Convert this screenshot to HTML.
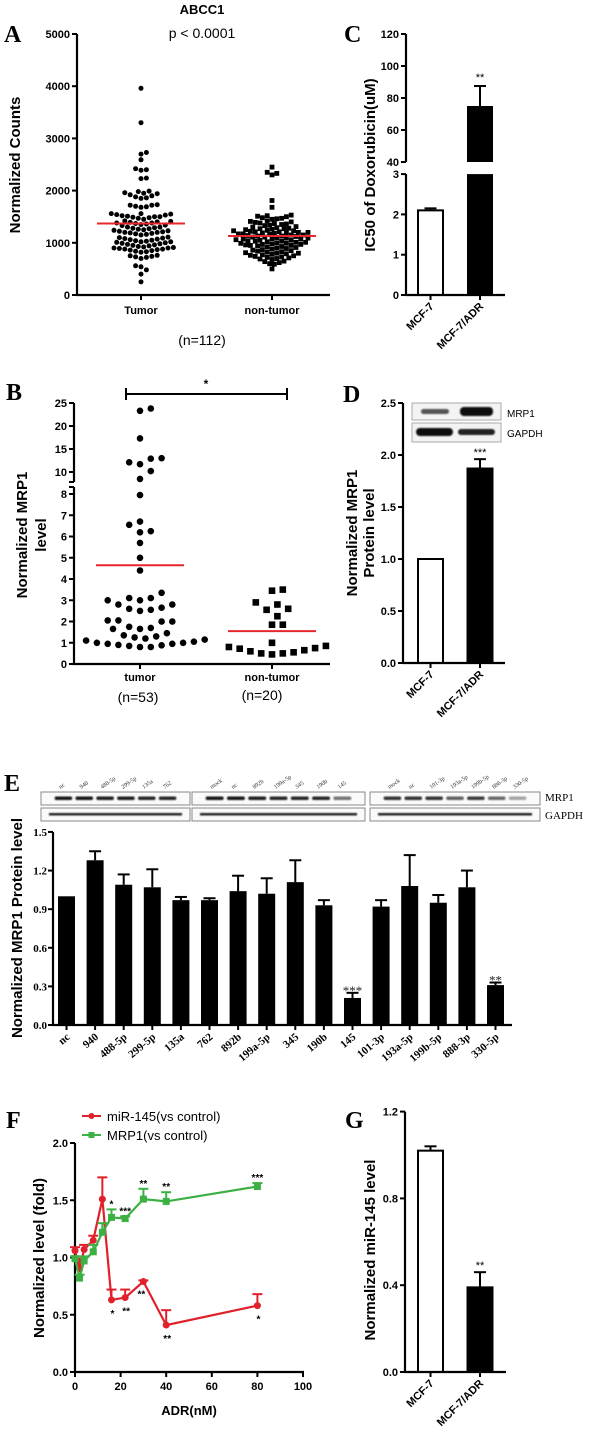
<!DOCTYPE html>
<html><head><meta charset="utf-8">
<style>
html,body{margin:0;padding:0;background:#fff;}
svg{display:block;font-family:"Liberation Sans",Arial,sans-serif;}
.b{font-weight:bold;}
.ser{font-family:"Liberation Serif",serif;}
</style></head>
<body>
<svg id="fig" width="600" height="1448" viewBox="0 0 600 1448" xmlns="http://www.w3.org/2000/svg">
<defs><filter id="bl" x="-20%" y="-100%" width="140%" height="300%"><feGaussianBlur stdDeviation="0.9"/></filter></defs>
<text x="4" y="42" class="ser b" font-size="24">A</text>
<text x="6" y="400" class="ser b" font-size="24">B</text>
<text x="344" y="42" class="ser b" font-size="24">C</text>
<text x="343" y="402" class="ser b" font-size="24">D</text>
<text x="4" y="791" class="ser b" font-size="24">E</text>
<text x="6" y="1128" class="ser b" font-size="24">F</text>
<text x="345" y="1128" class="ser b" font-size="24">G</text>
<text x="202" y="14" text-anchor="middle" class="b" font-size="13">ABCC1</text>
<text x="202" y="38" text-anchor="middle" font-size="14">p &lt; 0.0001</text>
<text transform="translate(20,165) rotate(-90)" text-anchor="middle" class="b" font-size="15">Normalized Counts</text>
<text x="202" y="345" text-anchor="middle" font-size="14">(n=112)</text>
<text transform="translate(27,535) rotate(-90)" text-anchor="middle" class="b" font-size="15">Normalized  MRP1</text>
<text transform="translate(46,535) rotate(-90)" text-anchor="middle" class="b" font-size="15">level</text>
<text x="138" y="702" text-anchor="middle" font-size="14">(n=53)</text>
<text x="262" y="700" text-anchor="middle" font-size="14">(n=20)</text>
<text x="206" y="388" text-anchor="middle" class="b" font-size="12">*</text>
<text transform="translate(375,165) rotate(-90)" text-anchor="middle" class="b" font-size="15">IC50 of Doxorubicin(uM)</text>
<text transform="translate(357,533) rotate(-90)" text-anchor="middle" class="b" font-size="15">Normalized  MRP1</text>
<text transform="translate(374,533) rotate(-90)" text-anchor="middle" class="b" font-size="15">Protein level</text>
<text transform="translate(375,1250) rotate(-90)" text-anchor="middle" class="b" font-size="15">Normalized  miR-145 level</text>
<text transform="translate(22,928) rotate(-90)" text-anchor="middle" class="b" font-size="15">Normalized  MRP1 Protein level</text>
<text transform="translate(44,1258) rotate(-90)" text-anchor="middle" class="b" font-size="15">Normalized  level (fold)</text>
<text x="189" y="1415" text-anchor="middle" class="b" font-size="13">ADR(nM)</text>
<g>
<line x1="82" y1="1116" x2="101" y2="1116" stroke="#e0212b" stroke-width="2"/>
<circle cx="91.5" cy="1116" r="3" fill="#e0212b"/>
<text x="107" y="1121" font-size="13">miR-145(vs control)</text>
<line x1="82" y1="1135" x2="101" y2="1135" stroke="#3cb043" stroke-width="2"/>
<rect x="88.5" y="1132" width="6" height="6" fill="#3cb043"/>
<text x="107" y="1140" font-size="13">MRP1(vs control)</text>
</g>
<text x="545" y="801" class="ser" font-size="11">MRP1</text>
<text x="545" y="819" class="ser" font-size="11">GAPDH</text>
<text x="507" y="417" font-size="10">MRP1</text>
<text x="507" y="437" font-size="10">GAPDH</text>
<g id="dyn"></g>
</svg>
<script>
var aTumor=[3960,3300,2730,2700,2590,2420,2400,2390,2240,2230,
1990,1980,1960,1950,1940,1920,1900,1880,1860,1850,
1730,1720,1720,1700,1690,1680,
1560,1560,1550,1540,1530,1520,1510,1500,1500,1490,1480,1470,1450,
1420,1410,1400,1390,1380,1380,1370,1360,1350,1340,1330,
1300,1300,1290,1280,1270,1260,1250,1240,1230,1220,1210,1200,1200,1190,1180,1170,1160,1150,
1110,1100,1090,1080,1070,1060,1050,1040,1030,1020,1020,1010,1000,990,980,970,960,950,940,930,
920,910,900,900,890,880,880,870,860,850,840,830,820,
760,750,740,730,720,700,
560,540,480,400,250];
var aNonTumor=[2450,2350,2330,2300,1810,1680,
1530,1520,1510,1500,1480,1470,1460,1450,
1420,1410,1400,1390,1380,1370,1360,1350,1340,1330,
1310,1300,1290,1280,1270,1270,1260,1250,1240,1230,1230,1220,1210,1210,1200,1200,1190,1190,1180,
1170,1170,1160,1150,1150,1140,1130,1130,1120,1110,1110,1100,1090,1090,1080,1070,1070,1060,1050,1050,1040,
1030,1030,1020,1010,1010,1000,990,990,980,970,970,960,950,950,940,930,920,910,900,
890,880,870,860,850,840,830,820,810,800,800,790,780,770,
760,750,740,730,720,710,700,690,680,
650,640,620,600,590,500];
var aMeans=[1370,1130];
var aTicks=[0,1000,2000,3000,4000,5000];
var aCats=["Tumor","non-tumor"];

var bTumor=[23.8,23.3,17.3,13.0,12.9,12.1,11.7,10.2,8.5,7.95,6.7,6.55,6.25,6.2,5.7,5.0,4.4,
3.35,3.1,3.1,3.0,3.0,2.8,2.8,2.65,2.6,2.55,2.5,2.05,2.05,2.0,2.0,1.75,1.7,1.65,1.65,
1.45,1.35,1.3,1.25,1.2,1.15,1.1,1.05,1.0,1.0,0.95,0.95,0.9,0.88,0.85,0.8,0.8];
var bNonTumor=[3.5,3.45,2.9,2.8,2.6,2.55,2.25,1.85,1.85,1.0,0.85,0.8,0.75,0.72,0.65,0.6,0.55,0.5,0.5,0.45];
var bMeans=[4.65,1.55];
var bTicksLow=[0,1,2,3,4,5,6,7,8];
var bTicksHigh=[10,15,20,25];
var bCats=["tumor","non-tumor"];

var cellCats=["MCF-7","MCF-7/ADR"];
var cValues=[2.1,75];
var cErr=[2.15,87.5];
var cTicksLow=[0,1,2,3];
var cTicksHigh=[40,60,80,100,120];
var dValues=[1.0,1.87];
var dErr=[1.0,1.96];
var dTicks=[0,0.5,1.0,1.5,2.0,2.5];
var gValues=[1.02,0.39];
var gErr=[1.04,0.46];
var gTicks=[0,0.4,0.8,1.2];

var eCats=["nc","940","488-5p","299-5p","135a","762","892b","199a-5p","345","190b","145","101-3p","193a-5p","199b-5p","888-3p","330-5p"];
var eValues=[1.0,1.28,1.09,1.07,0.97,0.97,1.04,1.02,1.11,0.93,0.21,0.92,1.08,0.95,1.07,0.31];
var eErr=[1.0,1.35,1.17,1.21,0.995,0.985,1.16,1.14,1.28,0.97,0.25,0.97,1.32,1.01,1.20,0.33];
var eStars=["","","","","","","","","","","***","","","","","**"];
var eTicks=[0,0.3,0.6,0.9,1.2,1.5];
var eBlotLanes1=["nc","940","488-5p","299-5p","135a","762"];
var eBlotLanes2=["mock","nc","892b","199a-5p","345","190b","145"];
var eBlotLanes3=["mock","nc","101-3p","193a-5p","199b-5p","888-3p","330-5p"];
var eBand1=[1,1,0.95,0.95,0.9,0.9];
var eBand2=[1,1,0.95,0.9,0.9,0.9,0.5];
var eBand3=[0.85,0.85,0.85,0.6,0.8,0.55,0.25];

var fX=[0,2,4,8,12,16,22,30,40,80];
var fMir=[1.06,0.9,1.07,1.15,1.51,0.63,0.65,0.79,0.41,0.58];
var fMirErr=[1.09,0.99,1.11,1.19,1.70,0.72,0.72,0.80,0.54,0.68];
var fMirStars=["","","","","","*","**","**","**","*"];
var fMrp=[0.99,0.82,0.97,1.05,1.22,1.35,1.34,1.51,1.49,1.62];
var fMrpErr=[1.01,0.85,1.01,1.11,1.30,1.42,1.36,1.60,1.57,1.65];
var fMrpStars=["","","","","","*","***","**","**","***"];
var fTicksY=[0,0.5,1.0,1.5,2.0];
var fTicksX=[0,20,40,60,80,100];

var NS="http://www.w3.org/2000/svg";
var root=document.getElementById('dyn');
function mk(tag,attrs,name,inter,parent){
  var el=document.createElementNS(NS,tag);
  for(var k in attrs){el.setAttribute(k,attrs[k]);}
  
  
  (parent||root).appendChild(el);
  return el;
}
function txt(x,y,s,opts,name){
  var a={x:x,y:y,'font-size':opts.size||11};
  if(opts.anchor)a['text-anchor']=opts.anchor;
  if(opts.bold)a['font-weight']='bold';
  if(opts.serif)a['font-family']='"Liberation Serif",serif';
  if(opts.tr)a.transform=opts.tr;
  if(opts.fill)a.fill=opts.fill;
  var t=mk('text',a,name,false);
  t.textContent=s;return t;
}
function line(x1,y1,x2,y2,w,col,name){
  return mk('line',{x1:x1,y1:y1,x2:x2,y2:y2,stroke:col||'#000','stroke-width':w||2},name,false);
}
function swarm(vals,cx,yfn,d,step){
  var placed=[],out=[];
  var sorted=vals.slice().sort(function(a,b){return a-b;});
  sorted.forEach(function(v){
    var y=yfn(v),k=0,x;
    while(true){
      var off=(k===0)?0:((k%2)?1:-1)*Math.ceil(k/2)*d*step;
      x=cx+off;var ok=true;
      for(var i=0;i<placed.length;i++){var p=placed[i];var dx=p[0]-x,dy=p[1]-y;if(dx*dx+dy*dy<d*d*0.98){ok=false;break;}}
      if(ok)break;k++;if(k>80)break;
    }
    placed.push([x,y]);out.push([x,y,v]);
  });
  return out;
}

(function(){
  var x0=77,xEnd=330,y0=295,top=34;
  function yA(v){return y0-v*(y0-top)/5000;}
  var xs=[141,272];
  line(x0,top,x0,y0+1,2.2,'#000','chart-a-y-axis');
  line(x0-1,y0,xEnd,y0,2.2,'#000','chart-a-x-axis');
  aTicks.forEach(function(t){
    line(x0-5,yA(t),x0,yA(t),2,'#000','chart-a-y-tick');
    txt(x0-7,yA(t)+4,String(t),{anchor:'end',bold:true,size:11},'chart-a-y-tick-label');
  });
  aCats.forEach(function(c,i){
    line(xs[i],y0,xs[i],y0+5,2,'#000','chart-a-x-tick');
    txt(xs[i],y0+19,c,{anchor:'middle',bold:true,size:11},'chart-a-x-tick-label');
  });
  swarm(aTumor,xs[0],yA,5.4,0.5).forEach(function(p){
    mk('circle',{cx:p[0].toFixed(1),cy:p[1].toFixed(1),r:2.5,fill:'#000'},'chart-a-tumor-point',false);
  });
  swarm(aNonTumor,xs[1],yA,4.8,0.5).forEach(function(p){
    mk('rect',{x:(p[0]-2.4).toFixed(1),y:(p[1]-2.4).toFixed(1),width:4.8,height:4.8,fill:'#000'},'chart-a-nontumor-point',false);
  });
  aMeans.forEach(function(m,i){
    line(xs[i]-44,yA(m),xs[i]+44,yA(m),2,'#e8262e','chart-a-mean-line');
  });
})();

(function(){
  var x0=74,xEnd=330,y0=664;
  function yB(v){return v<=8? y0-v*21.25 : 472-(v-10)*4.6;}
  var xs=[140,272];
  line(x0,403,x0,482,2.2,'#000','chart-b-y-axis-upper');
  line(x0,487,x0,y0+1,2.2,'#000','chart-b-y-axis-lower');
  line(x0-5,482,x0,482,2,'#000','chart-b-axis-break');
  line(x0-5,487,x0,487,2,'#000','chart-b-axis-break');
  line(x0-1,y0,xEnd,y0,2.2,'#000','chart-b-x-axis');
  bTicksLow.concat(bTicksHigh).forEach(function(t){
    line(x0-5,yB(t),x0,yB(t),2,'#000','chart-b-y-tick');
    txt(x0-7,yB(t)+4,String(t),{anchor:'end',bold:true,size:11},'chart-b-y-tick-label');
  });
  bCats.forEach(function(c,i){
    line(xs[i],y0,xs[i],y0+5,2,'#000','chart-b-x-tick');
    txt(xs[i],y0+17,c,{anchor:'middle',bold:true,size:11},'chart-b-x-tick-label');
  });
  line(126,394,287,394,2,'#000','chart-b-bracket');
  line(126,388,126,400,2,'#000','chart-b-bracket-end');
  line(287,388,287,400,2,'#000','chart-b-bracket-end');
  swarm(bTumor,xs[0],yB,9.8,0.55).forEach(function(p){
    mk('circle',{cx:p[0].toFixed(1),cy:p[1].toFixed(1),r:3.3,fill:'#000'},'chart-b-tumor-point',false);
  });
  swarm(bNonTumor,xs[1],yB,9.8,0.55).forEach(function(p){
    mk('rect',{x:(p[0]-3.3).toFixed(1),y:(p[1]-3.3).toFixed(1),width:6.6,height:6.6,fill:'#000'},'chart-b-nontumor-point',false);
  });
  bMeans.forEach(function(m,i){
    line(xs[i]-44,yB(m),xs[i]+44,yB(m),2,'#e8262e','chart-b-mean-line');
  });
})();

function barPair(prefix,x0,y0,xEnd,yfn,vals,errs,ticks,fmt,stars){
  var xs=[430.5,480];
  vals.forEach(function(v,i){
    var top=yfn(v);
    mk('rect',{x:xs[i]-12.5,y:top,width:25,height:y0-top,fill:i?'#000':'#fff',stroke:'#000','stroke-width':2},prefix+'-bar-'+(i?'adr':'mcf7'),false);
    line(xs[i],top,xs[i],yfn(errs[i]),2,'#000',prefix+'-error-bar');
    line(xs[i]-6,yfn(errs[i]),xs[i]+6,yfn(errs[i]),2,'#000',prefix+'-error-cap');
    if(stars[i])txt(xs[i],yfn(errs[i])-3,stars[i],{anchor:'middle',size:11},prefix+'-significance');
  });
  line(x0-1,y0,xEnd,y0,2.2,'#000',prefix+'-x-axis');
  cellCats.forEach(function(c,i){
    line(xs[i],y0,xs[i],y0+5,2,'#000',prefix+'-x-tick');
    txt(xs[i]+4,y0+12,c,{anchor:'end',bold:true,size:11,tr:'rotate(-45 '+(xs[i]+4)+' '+(y0+12)+')'},prefix+'-x-tick-label');
  });
  ticks.forEach(function(t){
    line(x0-5,yfn(t),x0,yfn(t),2,'#000',prefix+'-y-tick');
    txt(x0-7,yfn(t)+4,fmt(t),{anchor:'end',bold:true,size:11},prefix+'-y-tick-label');
  });
}

(function(){
  var x0=406,y0=295;
  function yC(v){return v<=3? y0-v*40.3 : 162-(v-40)*1.6;}
  line(x0,34,x0,162,2.2,'#000','chart-c-y-axis-upper');
  line(x0,174,x0,y0+1,2.2,'#000','chart-c-y-axis-lower');
  var xs=[430.5,480];
  var t0=yC(cValues[0]);
  mk('rect',{x:xs[0]-12.5,y:t0,width:25,height:y0-t0,fill:'#fff',stroke:'#000','stroke-width':2},'chart-c-bar-mcf7',false);
  line(xs[0],t0,xs[0],yC(cErr[0]),2,'#000','chart-c-error-bar');
  line(xs[0]-6,yC(cErr[0]),xs[0]+6,yC(cErr[0]),2,'#000','chart-c-error-cap');
  mk('rect',{x:xs[1]-13,y:yC(3),width:26,height:y0-yC(3),fill:'#000'},'chart-c-bar-adr-lower',false);
  var t1=yC(cValues[1]);
  mk('rect',{x:xs[1]-13,y:t1,width:26,height:162-t1,fill:'#000'},'chart-c-bar-adr-upper',false);
  line(xs[1],t1,xs[1],yC(cErr[1]),2,'#000','chart-c-error-bar');
  line(xs[1]-6,yC(cErr[1]),xs[1]+6,yC(cErr[1]),2,'#000','chart-c-error-cap');
  txt(xs[1],yC(cErr[1])-5,'**',{anchor:'middle',size:11},'chart-c-significance');
  line(x0-1,y0,505,y0,2.2,'#000','chart-c-x-axis');
  cellCats.forEach(function(c,i){
    line(xs[i],y0,xs[i],y0+5,2,'#000','chart-c-x-tick');
    txt(xs[i]+4,y0+12,c,{anchor:'end',bold:true,size:11,tr:'rotate(-45 '+(xs[i]+4)+' '+(y0+12)+')'},'chart-c-x-tick-label');
  });
  cTicksLow.concat(cTicksHigh).forEach(function(t){
    line(x0-5,yC(t),x0,yC(t),2,'#000','chart-c-y-tick');
    txt(x0-7,yC(t)+4,String(t),{anchor:'end',bold:true,size:11},'chart-c-y-tick-label');
  });
})();

(function(){
  var x0=403,y0=663;
  function yD(v){return y0-v*104;}
  line(x0,yD(2.5),x0,y0+1,2.2,'#000','chart-d-y-axis');
  barPair('chart-d',x0,y0,505,yD,dValues,dErr,dTicks,function(t){return t.toFixed(1);},['','***']);
  var g=mk('g',{},'chart-d-blot',false);
  mk('rect',{x:412,y:403,width:89,height:17,fill:'#f3f3f3',stroke:'#aaa','stroke-width':1},'chart-d-blot-mrp1-box',false,g);
  mk('rect',{x:412,y:423,width:89,height:19,fill:'#f3f3f3',stroke:'#aaa','stroke-width':1},'chart-d-blot-gapdh-box',false,g);
  mk('rect',{x:421,y:409,width:28,height:5,rx:2.5,fill:'#555',filter:'url(#bl)'},'chart-d-band-mrp1-mcf7',false,g);
  mk('rect',{x:460,y:407,width:33,height:9,rx:4,fill:'#111',filter:'url(#bl)'},'chart-d-band-mrp1-adr',false,g);
  mk('rect',{x:416,y:428,width:37,height:8,rx:4,fill:'#111',filter:'url(#bl)'},'chart-d-band-gapdh-mcf7',false,g);
  mk('rect',{x:458,y:429,width:37,height:6,rx:3,fill:'#222',filter:'url(#bl)'},'chart-d-band-gapdh-adr',false,g);
})();

(function(){
  var x0=405,y0=1372;
  function yG(v){return y0-v*217;}
  line(x0,yG(1.2),x0,y0+1,2.2,'#000','chart-g-y-axis');
  barPair('chart-g',x0,y0,506,yG,gValues,gErr,gTicks,function(t){return t.toFixed(1);},['','**']);
})();

(function(){
  var x0=53,y0=1025,xEnd=512;
  function yE(v){return y0-v*128.7;}
  function xE(i){return 66.5+i*28.6;}
  line(x0,yE(1.5),x0,y0+1,2.2,'#000','chart-e-y-axis');
  line(x0-1,y0,xEnd,y0,2.2,'#000','chart-e-x-axis');
  eTicks.forEach(function(t){
    line(x0-5,yE(t),x0,yE(t),2,'#000','chart-e-y-tick');
    txt(x0-6,yE(t)+4,t.toFixed(1),{anchor:'end',bold:true,serif:true,size:11},'chart-e-y-tick-label');
  });
  eCats.forEach(function(c,i){
    var x=xE(i),top=yE(eValues[i]);
    mk('rect',{x:x-8.5,y:top,width:17,height:y0-top,fill:'#000'},'chart-e-bar-'+c,false);
    if(eErr[i]>eValues[i]+0.002){
      line(x,top,x,yE(eErr[i]),2,'#000','chart-e-error-bar');
      line(x-6,yE(eErr[i]),x+6,yE(eErr[i]),2,'#000','chart-e-error-cap');
    }
    if(eStars[i])txt(x,yE(eErr[i])+2,eStars[i],{anchor:'middle',size:13,serif:true,fill:'#222'},'chart-e-significance');
    line(x,y0,x,y0+5,2,'#000','chart-e-x-tick');
    txt(x+4,y0+13,c,{anchor:'end',bold:true,serif:true,size:11,tr:'rotate(-40 '+(x+4)+' '+(y0+13)+')'},'chart-e-x-tick-label');
  });
  var boxes=[[41,190,eBlotLanes1,eBand1],[192,365,eBlotLanes2,eBand2],[370,540,eBlotLanes3,eBand3]];
  boxes.forEach(function(b,bi){
    var g=mk('g',{},'chart-e-blot-panel',false);
    mk('rect',{x:b[0],y:792,width:b[1]-b[0],height:13,fill:'#fafafa',stroke:'#888','stroke-width':1},'chart-e-blot-mrp1-box',false,g);
    mk('rect',{x:b[0],y:808,width:b[1]-b[0],height:13,fill:'#fafafa',stroke:'#888','stroke-width':1},'chart-e-blot-gapdh-box',false,g);
    var n=b[2].length,pad=12,w=(b[1]-b[0]-2*pad)/n;
    b[2].forEach(function(l,li){
      var cx=b[0]+pad+w*(li+0.5);
      var inten=b[3][li];
      var shade=Math.round(20+(1-inten)*190);
      mk('rect',{x:cx-w*0.42,y:796.5,width:w*0.84,height:3.5,rx:1.5,fill:'rgb('+shade+','+shade+','+shade+')',filter:'url(#bl)'},'chart-e-band-mrp1',false,g);
      txt(cx-3,789,l,{serif:true,size:6,fill:'#333',tr:'rotate(-35 '+(cx-3)+' 789)'},'chart-e-blot-lane-label');
    });
    mk('rect',{x:b[0]+8,y:813,width:b[1]-b[0]-16,height:2.5,fill:'#222',filter:'url(#bl)'},'chart-e-band-gapdh',false,g);
  });
})();

(function(){
  var x0=75,y0=1372;
  function yF(v){return y0-v*114.5;}
  function xF(v){return x0+v*2.28;}
  line(x0,yF(2),x0,y0+1,2.2,'#000','chart-f-y-axis');
  line(x0-1,y0,xF(100)+1,y0,2.2,'#000','chart-f-x-axis');
  fTicksY.forEach(function(t){
    line(x0-5,yF(t),x0,yF(t),2,'#000','chart-f-y-tick');
    txt(x0-7,yF(t)+4,t.toFixed(1),{anchor:'end',bold:true,size:11},'chart-f-y-tick-label');
  });
  fTicksX.forEach(function(t){
    line(xF(t),y0,xF(t),y0+5,2,'#000','chart-f-x-tick');
    txt(xF(t),y0+18,String(t),{anchor:'middle',bold:true,size:11},'chart-f-x-tick-label');
  });
  function series(vals,errs,stars,col,name,square,starsAbove){
    var pts=fX.map(function(x,i){return xF(x).toFixed(1)+','+yF(vals[i]).toFixed(1);}).join(' ');
    vals.forEach(function(v,i){
      var x=xF(fX[i]);
      line(x,yF(v),x,yF(errs[i]),2,col,name+'-error-bar');
      line(x-5,yF(errs[i]),x+5,yF(errs[i]),2,col,name+'-error-cap');
    });
    mk('polyline',{points:pts,fill:'none',stroke:col,'stroke-width':2.2},name+'-line',false);
    vals.forEach(function(v,i){
      var x=xF(fX[i]),y=yF(v);
      if(square)mk('rect',{x:x-3.5,y:y-3.5,width:7,height:7,fill:col},name+'-point',false);
      else mk('circle',{cx:x,cy:y,r:3.5,fill:col},name+'-point',false);
      if(stars[i]){
        if(starsAbove)txt(x,yF(errs[i])-2,stars[i],{anchor:'middle',size:10,bold:true},name+'-significance');
        else txt(x+(fX[i]===30?-2:1),y+(fX[i]===30?16:17),stars[i],{anchor:'middle',size:10,bold:true},name+'-significance');
      }
    });
  }
  series(fMir,fMirErr,fMirStars,'#e0212b','chart-f-mir145',false,false);
  series(fMrp,fMrpErr,fMrpStars,'#3cb043','chart-f-mrp1',true,true);
})();
</script>
</body></html>
